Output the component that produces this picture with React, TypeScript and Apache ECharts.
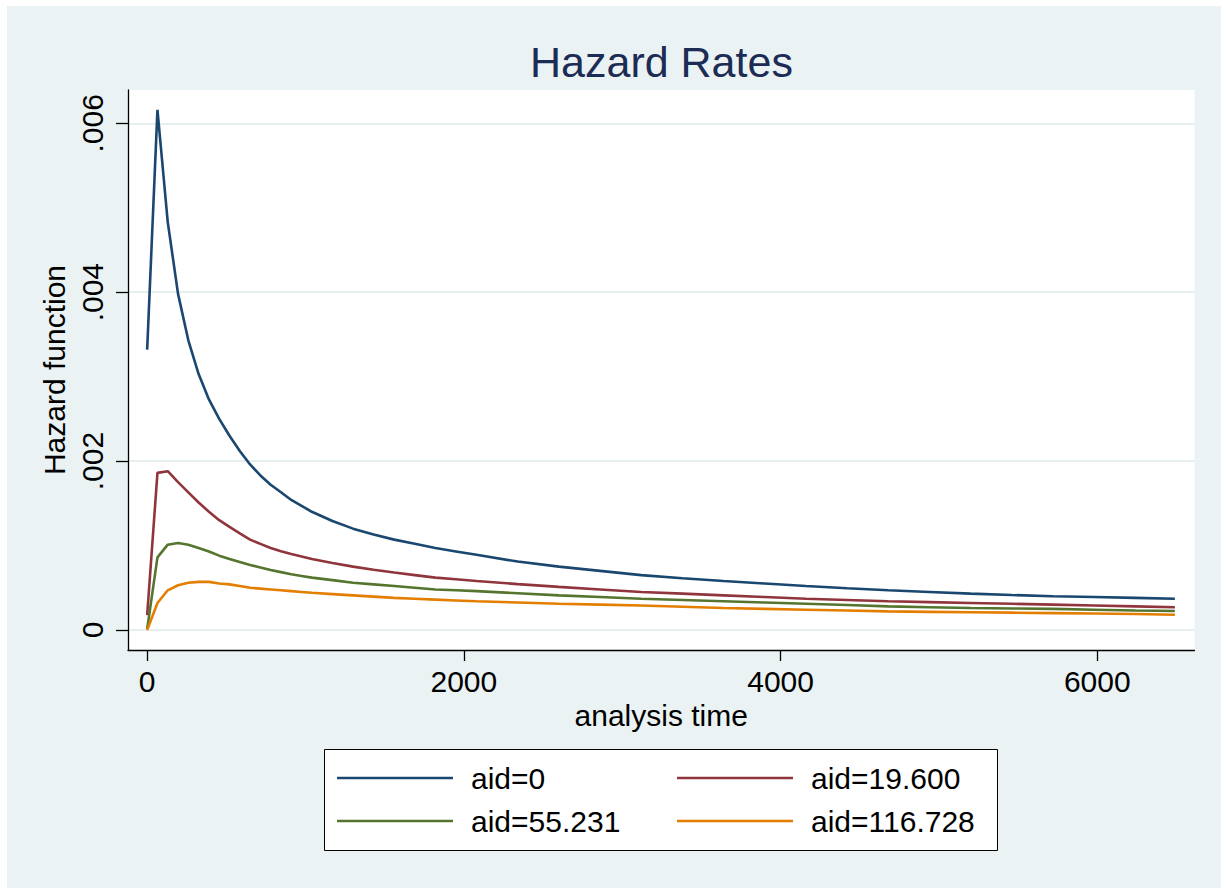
import React, { useEffect, useRef } from "react";
import * as echarts from "echarts";

// analysis time (x) at which the hazard curves are evaluated
const times = [0, 65, 130, 195, 260, 325, 390, 455, 520, 585, 650, 715, 780, 845, 910, 975, 1040, 1170, 1300, 1430, 1560, 1690, 1820, 1950, 2080, 2340, 2600, 2860, 3120, 3380, 3640, 3900, 4160, 4420, 4680, 4940, 5200, 5460, 5720, 5980, 6240, 6490];

const seriesNames = ["aid=0", "aid=19.600", "aid=55.231", "aid=116.728"];

const hazAid0 = [0.00332, 0.00616, 0.00483, 0.00398, 0.00343, 0.00303, 0.00273, 0.0025, 0.0023, 0.00212, 0.00196, 0.00183, 0.00172, 0.00163, 0.00154, 0.00147, 0.0014, 0.00129, 0.0012, 0.00113, 0.00107, 0.00102, 0.00097, 0.00093, 0.00089, 0.00081, 0.00075, 0.0007, 0.00065, 0.000613, 0.00058, 0.00055, 0.00052, 0.000494, 0.00047, 0.00045, 0.00043, 0.000414, 0.0004, 0.00039, 0.00038, 0.00037];
const hazAid19 = [0.000175, 0.00186, 0.00188, 0.00175, 0.00163, 0.00151, 0.0014, 0.0013, 0.00122, 0.001143, 0.00107, 0.00102, 0.00097, 0.000933, 0.0009, 0.00087, 0.00084, 0.000793, 0.00075, 0.000713, 0.00068, 0.00065, 0.00062, 0.0006, 0.00058, 0.000543, 0.00051, 0.00048, 0.00045, 0.00043, 0.00041, 0.00039, 0.00037, 0.000355, 0.00034, 0.00033, 0.00032, 0.00031, 0.0003, 0.00029, 0.00028, 0.00027];
const hazAid55 = [0.00001, 0.00086, 0.00101, 0.00103, 0.00101, 0.00097, 0.00093, 0.00088, 0.00084, 0.000805, 0.00077, 0.00074, 0.00071, 0.000685, 0.00066, 0.00064, 0.00062, 0.00059, 0.00056, 0.00054, 0.00052, 0.0005, 0.00048, 0.00047, 0.00046, 0.000435, 0.00041, 0.00039, 0.00037, 0.000355, 0.00034, 0.000325, 0.00031, 0.000295, 0.00028, 0.00027, 0.00026, 0.000255, 0.00025, 0.00024, 0.00023, 0.000225];
const hazAid116 = [0, 0.00032, 0.00047, 0.00053, 0.00056, 0.00057, 0.00057, 0.00055, 0.00054, 0.00052, 0.0005, 0.00049, 0.00048, 0.00047, 0.00046, 0.00045, 0.00044, 0.000425, 0.00041, 0.000395, 0.00038, 0.00037, 0.00036, 0.00035, 0.00034, 0.000325, 0.00031, 0.0003, 0.00029, 0.000275, 0.00026, 0.00025, 0.00024, 0.00023, 0.00022, 0.000215, 0.00021, 0.000205, 0.0002, 0.000195, 0.00019, 0.00018];

const xTickValues = [0, 2000, 4000, 6000];
const yTickValues = [0, 0.002, 0.004, 0.006];
const yTickLabels = ["0", ".002", ".004", ".006"];

const colors = ["#1a476f", "#90353b", "#55752f", "#e37e00"];
const FONT = "'Liberation Sans', Arial, Helvetica, sans-serif";

export default function App() {
  const ref = useRef<HTMLDivElement>(null);

  useEffect(() => {
    if (!ref.current) return;
    const chart = echarts.init(ref.current, undefined, { renderer: "svg" });
    const allValues = [hazAid0, hazAid19, hazAid55, hazAid116];

    const series = allValues.map((vals, i) => ({
      name: seriesNames[i],
      type: "line",
      data: times.map((t, k) => [t, vals[k]]),
      showSymbol: false,
      symbol: "none",
      lineStyle: { width: 2.6, color: colors[i] },
      itemStyle: { color: colors[i] },
      z: 3,
    }));

    const legendCommon = {
      left: 330,
      orient: "horizontal",
      padding: 0,
      itemWidth: 116,
      itemHeight: 2.6,
      itemGap: 56,
      icon: "rect",
      z: 5,
      textStyle: {
        fontFamily: FONT,
        fontSize: 30,
        color: "#000",
        width: 150,
        lineHeight: 30,
        padding: [0, 0, 0, 13],
      },
      selectedMode: false,
    };

    chart.setOption({
      animation: false,
      backgroundColor: "#eaf2f3",
      title: {
        text: "Hazard Rates",
        left: 518,
        top: 29,
        textStyle: { fontFamily: FONT, fontSize: 43, fontWeight: "normal", color: "#1c2c55" },
      },
      grid: {
        left: 121,
        top: 84,
        right: 26.5,
        bottom: 238,
        show: true,
        backgroundColor: "#ffffff",
        borderWidth: 0,
      },
      xAxis: {
        type: "value",
        min: -121,
        max: 6614,
        name: "analysis time",
        nameLocation: "middle",
        nameGap: 47,
        nameTextStyle: { fontFamily: FONT, fontSize: 30, color: "#000" },
        axisLine: { show: true, onZero: false, lineStyle: { color: "#000", width: 1.3 } },
        axisTick: { show: true, length: 11, customValues: xTickValues, lineStyle: { color: "#000", width: 1.3 } },
        axisLabel: {
          customValues: xTickValues,
          margin: 16,
          fontFamily: FONT,
          fontSize: 30,
          color: "#000",
          formatter: (v: number) => String(v),
        },
        splitLine: { show: false },
      },
      yAxis: {
        type: "value",
        min: -0.000237,
        max: 0.006394,
        name: "Hazard function",
        nameLocation: "middle",
        nameGap: 56,
        nameTextStyle: { fontFamily: FONT, fontSize: 30, color: "#000" },
        axisLine: { show: true, onZero: false, lineStyle: { color: "#000", width: 1.3 } },
        axisTick: { show: true, length: 12, customValues: yTickValues, lineStyle: { color: "#000", width: 1.3 } },
        axisLabel: {
          customValues: yTickValues,
          rotate: 90,
          margin: 21,
          fontFamily: FONT,
          fontSize: 30,
          color: "#000",
          formatter: (v: number) => {
            const idx = yTickValues.findIndex((y) => Math.abs(y - v) < 1e-9);
            return idx >= 0 ? yTickLabels[idx] : "";
          },
        },
        splitLine: { show: true, lineStyle: { color: "#e6eef0", width: 1.8 } },
      },
      legend: [
        { ...legendCommon, top: 757, data: [seriesNames[0], seriesNames[1]] },
        { ...legendCommon, top: 800, data: [seriesNames[2], seriesNames[3]] },
      ],
      graphic: [
        {
          type: "rect",
          z: 1,
          silent: true,
          shape: { x: 317.5, y: 743.5, width: 673, height: 101 },
          style: { fill: "#ffffff", stroke: "#000000", lineWidth: 1 },
        },
      ],
      series,
    });

    return () => chart.dispose();
  }, []);

  return (
    <div
      ref={ref}
      style={{ position: "absolute", left: 7, top: 6, width: 1214, height: 882 }}
    />
  );
}
